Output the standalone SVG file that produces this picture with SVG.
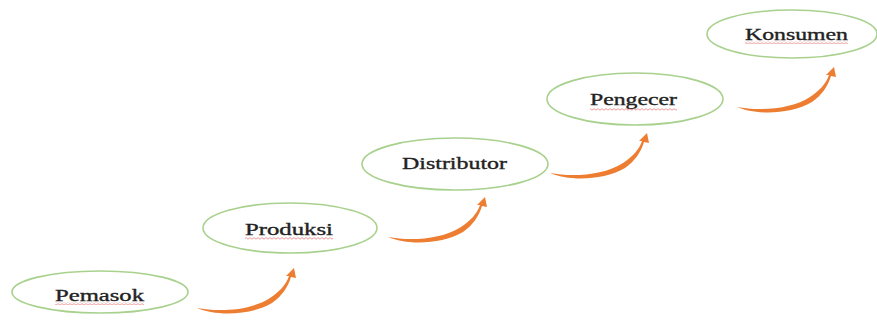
<svg xmlns="http://www.w3.org/2000/svg" width="877" height="320" viewBox="0 0 877 320">
  <style>
    .node ellipse { fill: #ffffff; stroke: #A9D18E; stroke-width: 1.6; }
    .node text { font-family: "Liberation Serif", "Times New Roman", serif; font-size: 17px; fill: #222222; text-anchor: middle; stroke: #222222; stroke-width: 0.35; }
    .squiggle { fill: url(#wave); opacity: 0.8; }
    .arrow { fill: #ED7D31; }
  </style>
  <defs>
    <pattern id="wave" width="4" height="3" patternUnits="userSpaceOnUse">
      <path d="M0,2.2 L2,0.6 L4,2.2" stroke="#E06060" stroke-width="0.8" fill="none"/>
    </pattern>
    <path id="curvedArrow" d="M -3,-1 C 15,7 50,7 72,-6 C 82,-13 88,-22 91,-32 L 96,-31 L 94,-41 L 86,-33 L 89,-33 C 86,-24 79,-17 70,-11 C 50,2 18,3 -3,-1 Z"/>
  </defs>

  <rect width="877" height="320" fill="#ffffff"/>

  <g id="connectors">
    <use href="#curvedArrow" class="arrow" transform="translate(200,309)"/>
    <use href="#curvedArrow" class="arrow" transform="translate(391,238)"/>
    <use href="#curvedArrow" class="arrow" transform="translate(553,174)"/>
    <use href="#curvedArrow" class="arrow" transform="translate(740,108)"/>
  </g>

  <g id="pemasok" class="node">
    <ellipse cx="100" cy="292" rx="88" ry="21"/>
    <text x="99.5" y="301" textLength="89" lengthAdjust="spacingAndGlyphs">Pemasok</text>
    <rect class="squiggle" x="55" y="302" width="89" height="3"/>
  </g>

  <g id="produksi" class="node">
    <ellipse cx="290" cy="228" rx="87" ry="25"/>
    <text x="289" y="235" textLength="88" lengthAdjust="spacingAndGlyphs">Produksi</text>
    <rect class="squiggle" x="245" y="237" width="88" height="3"/>
  </g>

  <g id="distributor" class="node">
    <ellipse cx="455" cy="164" rx="93" ry="26"/>
    <text x="454.5" y="169" textLength="105" lengthAdjust="spacingAndGlyphs">Distributor</text>
  </g>

  <g id="pengecer" class="node">
    <ellipse cx="635" cy="99" rx="88" ry="26"/>
    <text x="633.5" y="105" textLength="87" lengthAdjust="spacingAndGlyphs">Pengecer</text>
    <rect class="squiggle" x="590" y="108" width="87" height="3"/>
  </g>

  <g id="konsumen" class="node">
    <ellipse cx="792" cy="34" rx="85" ry="24"/>
    <text x="796.5" y="40" textLength="103" lengthAdjust="spacingAndGlyphs">Konsumen</text>
    <rect class="squiggle" x="745" y="41" width="103" height="3"/>
  </g>
</svg>
